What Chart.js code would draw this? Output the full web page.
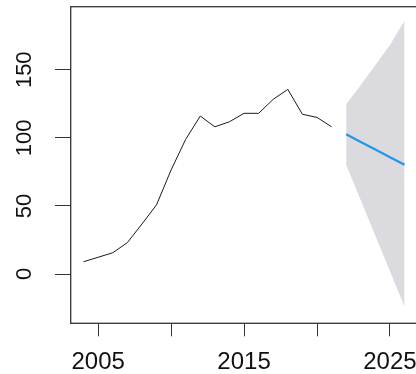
<!DOCTYPE html>
<html>
<head>
<meta charset="utf-8">
<script src="https://cdn.jsdelivr.net/npm/chart.js@4.4.1/dist/chart.umd.min.js"></script>
<style>
  html, body { margin: 0; padding: 0; background: #fff; overflow: hidden; }
  #wrap { width: 418px; height: 374px; }
</style>
</head>
<body>
<div id="wrap"><canvas id="fc" width="418" height="374"></canvas></div>
<script>
// observed series
const histYears = [2004, 2005, 2006, 2007, 2008, 2009, 2010, 2011, 2012, 2013, 2014, 2015, 2016, 2017, 2018, 2019, 2020, 2021];
const histValues = [9.0, 12.3, 15.6, 23.0, 36.7, 50.7, 76.4, 98.9, 116.0, 108.1, 111.8, 118.0, 118.0, 128.3, 135.6, 117.3, 115.0, 108.1];

// point forecast and interval
const fcYears = [2022, 2023, 2024, 2025, 2026];
const fcMean = [102.6, 97.0, 91.4, 85.8, 80.2];
const fcUpper = [124.6, 138.8, 153.5, 168.1, 186.0];
const fcLower = [80.2, 54.2, 28.1, 2.0, -24.0];

// axes
const xTickValues = [2005, 2010, 2015, 2020, 2025];
const xLabelYears = [2005, 2015, 2025];
const yTickValues = [0, 50, 100, 150];

const pts = (xs, ys) => xs.map((x, i) => ({ x: x, y: ys[i] }));

const axisColor = '#333';
const fontFam = '"Liberation Sans", Arial, sans-serif';

// box around the plot region
const frame = {
  id: 'frame',
  afterDatasetsDraw(chart) {
    const a = chart.chartArea, ctx = chart.ctx;
    ctx.save();
    ctx.strokeStyle = axisColor;
    ctx.lineWidth = 1.3;
    ctx.strokeRect(a.left, a.top, a.right - a.left, a.bottom - a.top);
    ctx.restore();
  }
};

// datasets are painted last-to-first, so the band goes at the end
new Chart(document.getElementById('fc'), {
  type: 'line',
  data: {
    datasets: [
      {
        data: pts(histYears, histValues),
        borderColor: '#1a1a1a',
        borderWidth: 1,
        pointRadius: 0,
        fill: false,
        tension: 0
      },
      {
        data: pts(fcYears, fcMean),
        borderColor: '#2297E6',
        borderWidth: 2.2,
        pointRadius: 0,
        fill: false,
        tension: 0
      },
      {
        data: pts(fcYears, fcUpper),
        borderWidth: 0,
        borderColor: 'rgba(0,0,0,0)',
        backgroundColor: '#dadadf',
        pointRadius: 0,
        fill: '+1',
        tension: 0
      },
      {
        data: pts(fcYears, fcLower),
        borderWidth: 0,
        borderColor: 'rgba(0,0,0,0)',
        pointRadius: 0,
        fill: false,
        tension: 0
      }
    ]
  },
  options: {
    responsive: false,
    animation: false,
    events: [],
    layout: { padding: { top: 6.7, right: 0.6, left: 0, bottom: 0 } },
    plugins: {
      legend: { display: false },
      tooltip: { enabled: false }
    },
    scales: {
      x: {
        type: 'linear',
        min: 2003.12,
        max: 2026.88,
        afterBuildTicks: (s) => { s.ticks = xTickValues.map(v => ({ value: v })); },
        afterFit: (s) => { s.height = 50.7; s.paddingLeft = 0; s.paddingRight = 0; },
        border: { display: false },
        grid: {
          drawOnChartArea: false,
          drawTicks: true,
          tickLength: 13,
          tickColor: axisColor,
          tickWidth: 1
        },
        ticks: {
          padding: 12,
          maxRotation: 0,
          autoSkip: false,
          color: '#111',
          font: { family: fontFam, size: 24 },
          callback: (v) => xLabelYears.includes(v) ? String(v) : ''
        }
      },
      y: {
        type: 'linear',
        min: -36.2,
        max: 196.3,
        afterBuildTicks: (s) => { s.ticks = yTickValues.map(v => ({ value: v })); },
        afterFit: (s) => { s.width = 70.7; s.paddingTop = 0; s.paddingBottom = 0; },
        border: { display: false },
        grid: {
          drawOnChartArea: false,
          drawTicks: true,
          tickLength: 15.7,
          tickColor: axisColor,
          tickWidth: 1
        },
        ticks: {
          padding: 12,
          minRotation: 90,
          maxRotation: 90,
          crossAlign: 'center',
          autoSkip: false,
          color: '#111',
          font: { family: fontFam, size: 22 },
          callback: (v) => String(v)
        }
      }
    }
  },
  plugins: [frame]
});
</script>
</body>
</html>
